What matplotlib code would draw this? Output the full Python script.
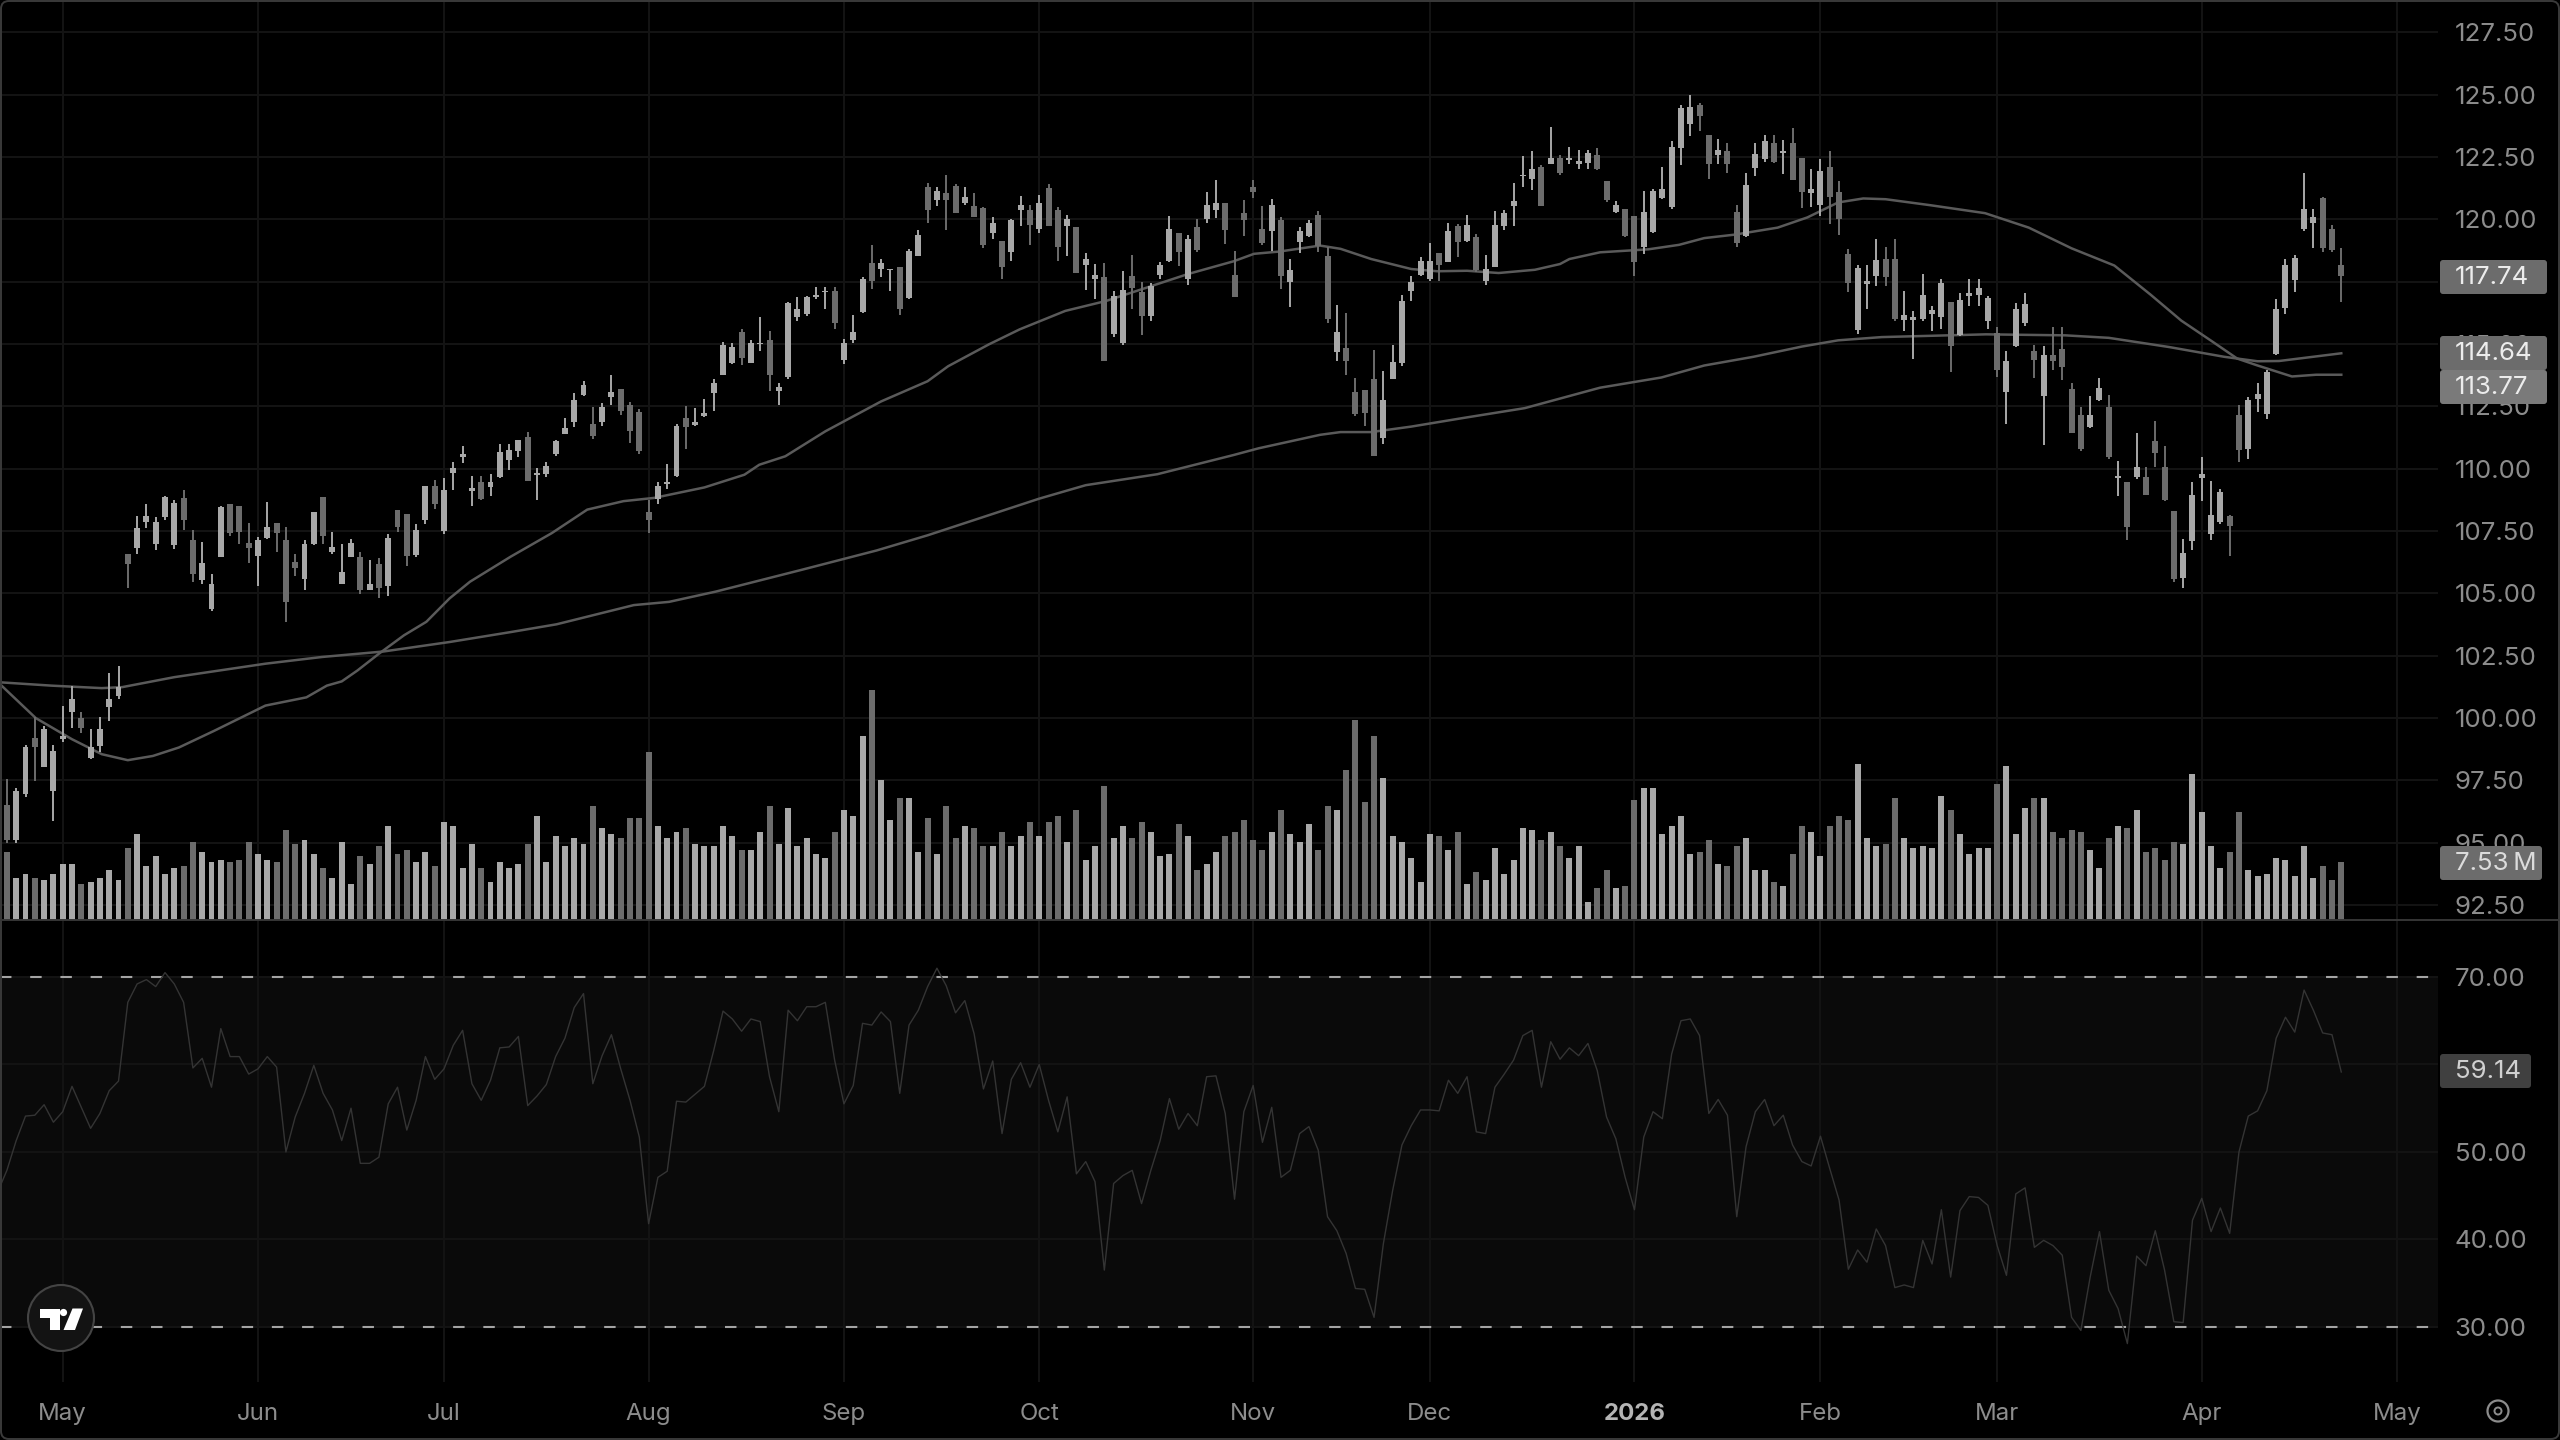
import matplotlib
matplotlib.use('Agg')
import matplotlib.pyplot as plt
import matplotlib.patches as mpatches
import numpy as np

opens = [96.5, 95.09, 96.96, 99.2, 98.04, 97.07, 99.15, 100.23, 99.99, 98.41,
         98.88, 100.43, 100.9, 106.57, 106.84, 107.88, 107.0, 108.08, 106.94, 108.82,
         107.14, 105.52, 104.38, 106.44, 108.59, 108.5, 107.04, 106.49, 107.23, 107.84,
         107.14, 106.24, 105.59, 107.0, 108.86, 106.67, 105.39, 106.47, 106.44, 105.15,
         106.17, 105.28, 108.35, 108.17, 106.53, 107.94, 109.31, 107.51, 109.83, 110.46,
         109.09, 109.46, 109.25, 109.66, 110.36, 110.7, 111.26, 109.75, 109.8, 110.59,
         111.41, 111.88, 112.94, 111.8, 111.87, 112.89, 113.19, 112.54, 112.27, 108.25,
         108.78, 109.4, 109.72, 112.04, 111.75, 112.11, 113.02, 113.75, 114.23, 115.47,
         114.23, 115.0, 115.17, 113.1, 113.66, 116.07, 116.2, 116.87, 117.07, 117.14,
         114.35, 115.16, 116.3, 118.25, 118.01, 117.97, 118.08, 116.84, 118.52, 121.3,
         120.77, 121.06, 121.34, 120.67, 120.52, 120.46, 119.46, 119.15, 118.68, 120.36,
         120.36, 119.62, 121.24, 120.36, 119.72, 119.69, 118.19, 117.61, 117.67, 115.39,
         115.05, 117.74, 117.1, 116.13, 117.77, 118.35, 119.45, 117.61, 119.69, 120.03,
         120.36, 120.66, 117.77, 120.26, 121.3, 119.6, 119.52, 119.96, 117.47, 119.09,
         119.35, 120.19, 118.55, 114.68, 114.85, 113.06, 113.17, 113.58, 111.22, 113.58,
         114.25, 117.14, 117.78, 117.61, 118.64, 118.28, 119.72, 119.15, 119.29, 117.51,
         118.1, 119.73, 120.54, 121.73, 121.64, 122.11, 122.22, 122.47, 122.38, 122.22,
         122.28, 122.58, 121.53, 120.29, 120.43, 120.12, 118.91, 119.5, 120.84, 120.5,
         122.85, 123.81, 124.57, 123.4, 122.57, 122.75, 120.29, 119.35, 122.06, 122.43,
         123.08, 122.67, 123.08, 122.47, 121.05, 120.57, 122.11, 121.09, 118.6, 115.57,
         117.39, 117.73, 118.43, 118.43, 115.98, 115.98, 116.01, 116.22, 116.08, 116.67,
         115.35, 116.91, 116.97, 115.94, 115.46, 113.08, 114.93, 115.84, 114.74, 112.9,
         114.56, 114.79, 113.18, 112.14, 111.66, 112.76, 112.49, 109.63, 109.45, 109.66,
         109.68, 111.1, 110.07, 108.3, 105.62, 107.1, 109.63, 107.38, 107.86, 108.1,
         112.14, 110.79, 112.8, 112.21, 114.6, 116.45, 117.55, 119.6, 119.85, 120.84, 119.6, 118.19]

closes = [95.12, 97.07, 98.84, 98.82, 99.56, 98.68, 99.29, 100.77, 99.62, 98.82,
          99.56, 100.77, 101.24, 106.17, 107.61, 108.1, 107.88, 108.86, 108.62, 107.94,
          105.79, 106.22, 105.36, 108.45, 107.41, 107.47, 106.83, 107.14, 107.67, 107.41,
          104.65, 106.02, 107.0, 108.27, 107.3, 106.87, 105.86, 107.04, 105.12, 105.36,
          105.23, 107.24, 107.67, 106.49, 107.54, 109.31, 108.59, 109.15, 110.03, 110.6,
          109.22, 108.78, 109.46, 110.67, 110.74, 111.17, 109.49, 109.83, 110.09, 111.1,
          111.64, 112.76, 113.35, 111.3, 112.49, 113.08, 112.31, 111.51, 110.7, 107.94,
          109.31, 109.48, 111.73, 111.68, 111.88, 112.22, 113.43, 114.96, 114.87, 114.46,
          115.04, 115.04, 113.75, 113.28, 116.65, 116.41, 116.87, 116.96, 117.14, 115.86,
          115.03, 115.5, 117.61, 117.54, 118.24, 118.01, 116.4, 118.75, 119.38, 120.36,
          121.13, 120.77, 120.27, 120.9, 120.11, 118.98, 119.85, 118.1, 119.96, 120.59,
          119.78, 120.67, 119.72, 118.91, 120.03, 117.85, 118.41, 117.78, 114.31, 116.94,
          117.18, 117.23, 116.13, 117.31, 118.17, 119.62, 118.68, 119.22, 118.79, 120.56,
          120.66, 119.56, 116.9, 119.96, 121.08, 119.06, 120.56, 117.71, 117.97, 119.53,
          119.87, 118.95, 116.0, 115.48, 114.31, 112.2, 112.23, 110.51, 112.77, 114.29,
          116.73, 117.5, 118.35, 118.32, 118.19, 119.53, 119.09, 119.76, 117.98, 118.01,
          119.78, 120.27, 120.73, 121.8, 122.04, 120.52, 122.45, 121.88, 122.45, 122.35,
          122.65, 122.04, 120.77, 120.57, 119.32, 118.29, 120.29, 121.12, 121.23, 122.91,
          124.46, 124.5, 124.13, 122.22, 122.8, 122.22, 119.05, 121.37, 122.61, 123.16,
          122.29, 122.75, 121.6, 121.09, 121.23, 121.95, 120.91, 120.01, 117.46, 118.04,
          117.53, 118.38, 117.69, 116.0, 116.15, 116.08, 116.98, 116.35, 117.46, 114.93,
          116.77, 117.04, 117.25, 116.84, 113.94, 114.32, 116.42, 116.59, 114.35, 114.56,
          114.32, 114.1, 111.45, 110.79, 112.17, 113.22, 110.48, 109.7, 107.65, 110.07,
          108.96, 110.65, 108.76, 105.58, 106.62, 108.96, 109.77, 108.16, 109.07, 107.69,
          110.76, 112.76, 113.0, 113.87, 116.42, 118.19, 118.45, 120.4, 120.08, 118.84, 118.77, 117.74]

highs = [97.54, 97.2, 98.9, 100.03, 99.69, 98.91, 100.5, 101.3, 100.26, 99.56,
         100.03, 101.81, 102.07, 106.57, 108.1, 108.59, 108.08, 108.91, 108.75, 109.15,
         107.54, 107.07, 105.77, 108.5, 108.59, 108.5, 107.84, 107.27, 108.68, 107.84,
         107.67, 106.57, 107.14, 108.27, 108.88, 107.47, 106.98, 107.2, 106.67, 106.33,
         106.4, 107.38, 108.35, 108.17, 107.78, 109.31, 109.53, 109.62, 110.26, 110.93,
         109.69, 109.69, 109.8, 111.0, 111.0, 111.17, 111.48, 110.03, 110.27, 111.17,
         112.04, 113.02, 113.52, 112.49, 112.62, 113.75, 113.19, 112.67, 112.38, 108.75,
         109.46, 110.2, 111.8, 112.51, 112.45, 112.78, 113.59, 115.09, 115.03, 115.6,
         115.17, 116.07, 115.51, 113.45, 116.68, 116.9, 116.94, 117.27, 117.27, 117.27,
         115.19, 116.16, 117.67, 118.99, 118.41, 118.01, 118.08, 118.82, 119.56, 121.48,
         121.3, 121.8, 121.4, 121.3, 121.06, 120.5, 120.09, 119.15, 120.0, 120.93,
         120.56, 120.97, 121.4, 120.5, 120.16, 119.69, 118.66, 118.21, 118.25, 117.14,
         117.92, 118.58, 117.5, 117.45, 118.31, 120.12, 119.45, 119.38, 120.0, 121.08,
         121.57, 120.66, 118.72, 120.77, 121.57, 120.52, 120.83, 120.09, 118.41, 119.69,
         119.96, 120.32, 118.88, 116.56, 116.24, 113.64, 113.17, 114.78, 113.91, 114.95,
         116.96, 117.74, 118.48, 119.06, 118.64, 119.87, 119.83, 120.16, 119.42, 118.58,
         120.34, 120.36, 121.48, 122.55, 122.76, 122.2, 123.72, 122.58, 122.92, 122.78,
         122.78, 122.85, 121.56, 120.73, 120.43, 120.12, 121.15, 121.23, 122.11, 123.16,
         124.57, 124.99, 124.68, 123.4, 123.22, 123.05, 120.57, 121.88, 123.08, 123.4,
         123.4, 123.19, 123.67, 122.47, 122.02, 122.43, 122.75, 121.53, 118.81, 118.19,
         118.19, 119.23, 118.91, 119.23, 117.11, 116.31, 117.8, 116.53, 117.6, 116.67,
         117.04, 117.62, 117.62, 116.91, 115.7, 114.74, 116.63, 117.04, 114.97, 114.93,
         115.7, 115.7, 113.45, 112.49, 112.9, 113.63, 112.97, 110.32, 109.45, 111.45,
         110.07, 111.93, 110.9, 108.3, 107.17, 109.45, 110.48, 109.52, 109.17, 108.16,
         112.55, 112.86, 113.45, 113.94, 116.81, 118.43, 118.59, 121.88, 120.4, 120.91, 119.77, 118.84]

lows = [94.99, 95.0, 96.84, 97.47, 98.04, 95.86, 99.02, 99.62, 99.42, 98.35,
        98.62, 99.89, 100.77, 105.23, 106.57, 107.61, 106.73, 107.94, 106.8, 107.54,
        105.46, 105.36, 104.31, 106.44, 107.3, 107.0, 106.2, 105.28, 107.2, 106.67,
        103.84, 105.69, 105.12, 106.94, 107.0, 106.57, 105.36, 106.44, 104.99, 105.12,
        104.83, 104.88, 107.47, 106.09, 106.44, 107.78, 108.37, 107.38, 109.15, 110.23,
        108.51, 108.75, 108.91, 109.62, 109.96, 110.46, 109.49, 108.75, 109.66, 110.52,
        111.41, 111.67, 112.92, 111.2, 111.73, 112.54, 112.14, 111.03, 110.6, 107.41,
        108.59, 109.18, 109.65, 110.79, 111.73, 112.08, 112.31, 113.75, 114.19, 114.17,
        114.23, 114.73, 113.12, 112.54, 113.59, 115.94, 116.13, 116.8, 116.4, 115.59,
        114.22, 115.03, 116.26, 117.2, 117.67, 117.14, 116.16, 116.8, 118.52, 119.87,
        120.54, 119.56, 120.27, 120.59, 120.11, 118.84, 119.22, 117.6, 118.35, 119.73,
        118.99, 119.46, 119.72, 118.35, 118.55, 117.85, 117.18, 116.8, 114.31, 115.3,
        114.95, 116.4, 115.35, 115.93, 117.61, 118.31, 118.12, 117.37, 118.71, 119.87,
        120.05, 119.0, 116.9, 119.33, 120.87, 118.99, 118.75, 117.2, 116.5, 118.66,
        119.29, 118.71, 115.86, 114.31, 113.74, 112.12, 111.72, 110.51, 111.0, 113.58,
        114.14, 116.73, 117.74, 117.54, 117.54, 118.28, 118.48, 119.09, 117.88, 117.38,
        118.08, 119.56, 119.73, 121.3, 121.17, 120.52, 122.22, 121.8, 122.22, 122.02,
        122.04, 121.98, 120.7, 120.26, 119.3, 117.73, 118.6, 119.46, 120.81, 120.43,
        122.2, 123.33, 123.54, 121.64, 122.22, 121.88, 118.91, 119.3, 121.74, 122.29,
        122.25, 121.81, 121.6, 120.46, 120.5, 120.15, 119.81, 119.39, 117.09, 115.39,
        116.42, 117.32, 117.32, 115.94, 115.52, 114.42, 115.94, 115.52, 115.62, 113.87,
        115.32, 116.53, 116.53, 115.62, 113.69, 111.8, 114.9, 115.73, 113.63, 110.97,
        113.94, 113.55, 111.45, 110.73, 111.62, 112.72, 110.41, 108.89, 107.14, 109.59,
        108.94, 110.07, 108.72, 105.44, 105.21, 106.75, 108.72, 107.14, 107.79, 106.48,
        110.28, 110.41, 112.28, 112.0, 114.56, 116.22, 117.09, 119.53, 118.84, 118.7, 118.7, 116.7]

# volume in millions
volumes = [8.83, 5.38, 5.94, 5.38, 5.17, 5.94, 7.23, 7.23, 4.65, 4.91,
           5.43, 6.46, 5.17, 9.34, 11.11, 6.98, 8.27, 5.94, 6.72, 6.98,
           10.08, 8.78, 7.49, 7.75, 7.49, 7.75, 10.08, 8.53, 7.75, 7.49,
           11.63, 9.82, 10.33, 8.53, 6.72, 5.43, 10.08, 4.65, 8.27, 7.23,
           9.56, 12.14, 8.53, 9.04, 7.49, 8.78, 6.98, 12.66, 12.14, 6.72,
           9.82, 6.72, 4.91, 7.49, 6.72, 7.23, 9.82, 13.43, 7.49, 10.85,
           9.56, 10.59, 9.82, 14.73, 11.88, 11.11, 10.59, 13.18, 13.18, 21.7,
           12.14, 10.59, 11.37, 11.88, 9.82, 9.56, 9.56, 12.14, 10.85, 9.04,
           9.04, 11.37, 14.73, 9.82, 14.47, 9.56, 10.59, 8.53, 8.01, 11.37,
           14.21, 13.43, 23.77, 29.71, 18.09, 12.92, 15.76, 15.76, 8.78, 13.18,
           8.53, 14.73, 10.59, 12.14, 11.88, 9.56, 9.56, 11.37, 9.56, 10.85,
           12.66, 10.85, 12.66, 13.43, 10.08, 14.21, 7.75, 9.56, 17.31, 10.59,
           12.14, 10.59, 12.66, 11.37, 8.27, 8.53, 12.4, 10.85, 6.46, 7.23,
           8.78, 10.85, 11.37, 12.92, 10.33, 9.04, 11.37, 14.21, 11.11, 10.08,
           12.4, 9.04, 14.73, 14.21, 19.38, 25.84, 15.24, 23.77, 18.34, 10.85,
           10.08, 8.01, 4.91, 11.11, 10.85, 9.04, 11.37, 4.65, 6.2, 5.17,
           9.3, 5.94, 7.75, 11.88, 11.63, 10.33, 11.37, 9.56, 8.01, 9.56,
           2.33, 4.13, 6.46, 4.13, 4.39, 15.5, 17.05, 17.05, 11.11, 12.14,
           13.43, 8.53, 8.78, 10.33, 7.23, 6.98, 9.56, 10.59, 6.46, 6.46,
           4.91, 4.39, 8.53, 12.14, 11.37, 8.27, 12.14, 13.43, 12.92, 20.15,
           10.59, 9.56, 9.82, 15.76, 10.59, 9.3, 9.56, 9.3, 16.02, 14.21,
           11.11, 8.53, 9.3, 9.3, 17.57, 19.89, 11.11, 14.47, 15.76, 15.76,
           11.37, 10.59, 11.63, 11.37, 9.04, 6.72, 10.59, 12.14, 11.88, 14.21,
           8.78, 9.3, 7.75, 10.08, 9.82, 18.86, 13.95, 9.56, 6.72, 8.78,
           13.95, 6.46, 5.68, 5.94, 8.01, 7.75, 5.68, 9.56, 5.43, 6.98, 5.17, 7.53]

# rsi starts one bar left of the first candle
rsi = [45.4, 47.9, 51.3, 54.1, 54.2, 55.4, 53.4, 54.6, 57.5, 55.1, 52.7,
       54.4, 57.0, 58.1, 67.1, 69.2, 69.7, 68.9, 70.5, 69.2, 67.1,
       59.6, 60.7, 57.4, 64.1, 60.9, 60.9, 58.9, 59.5, 60.9, 59.7,
       50.0, 54.0, 56.7, 59.9, 56.7, 54.8, 51.3, 55.0, 48.7, 48.7,
       49.4, 55.5, 57.4, 52.5, 55.9, 60.9, 58.3, 59.5, 62.2, 63.9,
       57.8, 55.9, 58.2, 61.9, 62.0, 63.2, 55.3, 56.4, 57.7, 60.9,
       63.0, 66.5, 68.1, 57.8, 61.0, 63.4, 59.5, 55.9, 51.7, 41.8,
       47.1, 47.8, 55.8, 55.7, 56.6, 57.5, 61.6, 66.1, 65.2, 63.8,
       65.2, 64.9, 58.6, 54.6, 66.2, 65.0, 66.6, 66.6, 67.1, 60.5,
       55.5, 57.6, 64.7, 64.5, 66.0, 64.9, 56.7, 64.5, 66.2, 68.9,
       71.0, 69.0, 65.9, 67.3, 63.5, 57.2, 60.4, 52.1, 58.3, 60.2,
       57.4, 60.0, 55.9, 52.3, 56.3, 47.5, 48.9, 46.6, 36.5, 46.4,
       47.3, 47.9, 44.1, 47.9, 51.3, 56.1, 52.6, 54.4, 53.0, 58.6,
       58.7, 54.4, 44.6, 54.6, 57.6, 51.1, 55.1, 47.1, 47.9, 52.1,
       52.9, 50.2, 42.6, 41.0, 38.4, 34.4, 34.3, 31.1, 39.5, 45.6,
       50.8, 53.0, 54.8, 54.8, 54.7, 58.2, 56.7, 58.6, 52.3, 52.1,
       57.4, 58.9, 60.5, 63.3, 63.9, 57.4, 62.6, 60.6, 61.9, 61.0,
       62.4, 59.3, 54.0, 51.5, 47.1, 43.4, 51.7, 54.6, 53.8, 61.2,
       65.0, 65.2, 63.3, 54.4, 56.0, 54.2, 42.6, 50.6, 54.6, 56.0,
       53.0, 54.2, 50.8, 48.9, 48.4, 51.8, 48.1, 44.5, 36.6, 38.8,
       37.4, 41.2, 39.3, 34.5, 34.8, 34.5, 39.9, 37.2, 43.4, 35.7,
       43.3, 44.9, 44.8, 43.9, 39.3, 35.9, 45.2, 45.9, 39.1, 39.9,
       39.3, 38.2, 31.1, 29.6, 35.7, 40.9, 34.2, 32.1, 28.1, 38.1,
       37.0, 41.0, 36.5, 30.6, 30.5, 42.2, 44.7, 40.9, 43.6, 40.7,
       50.0, 54.1, 54.7, 57.0, 63.0, 65.4, 63.7, 68.5, 66.2, 63.6, 63.4, 59.14]

# moving averages, read at their bends
ma_fast_x = [-1, 3.1, 7, 10.2, 13, 15.7, 18.5, 22.3, 27.8, 32.2, 34.4, 36, 37.7, 40, 42.7, 45.1, 47.6, 49.8,
             54.2, 58.6, 62.4, 66.3, 69.6, 75, 79.3, 80.9, 83.7, 88, 94, 99, 101.2, 105.6, 108.9, 113.8,
             118.2, 122.6, 127, 131.9, 134.1, 136.8, 141.2, 143.4, 146.7, 151, 153.8, 157, 160.4, 164.3,
             167, 168, 171.3, 176.5, 179.8, 182.5, 185.8, 190.4, 193.6, 196.9, 199.6, 202, 206.8, 212.7,
             217.4, 222, 226.6, 230.5, 233.8, 237.1, 239.8, 242, 245.7, 248.3, 251]
ma_fast = [101.45, 100.0, 99.15, 98.55, 98.31, 98.48, 98.82, 99.49, 100.5, 100.83, 101.3, 101.47, 101.91, 102.58,
           103.32, 103.86, 104.8, 105.47, 106.48, 107.42, 108.36, 108.7, 108.83, 109.25, 109.76, 110.16, 110.5,
           111.5, 112.7, 113.51, 114.11, 114.99, 115.59, 116.33, 116.73, 117.27, 117.81, 118.32, 118.62, 118.71,
           118.95, 118.82, 118.41, 118.01, 117.92, 117.94, 117.85, 117.98, 118.21, 118.41, 118.68, 118.8, 118.98,
           119.25, 119.39, 119.67, 120.08, 120.68, 120.84, 120.81, 120.57, 120.25, 119.67, 118.84, 118.15, 116.98,
           115.94, 115.11, 114.42, 114.14, 113.7, 113.77, 113.77]

ma_slow_x = [-1, 4.8, 10.2, 12.4, 18, 22.9, 27.8, 33.9, 40.5, 47.6, 54.2, 59.1, 67.4, 71.2, 76.2, 85.4, 93.5, 99,
             103.9, 111, 116, 123.7, 131.9, 134.6, 141.2, 143.4, 146.7, 151, 156.5, 163.2, 171.3, 177.9, 182.5,
             187.8, 193, 196.9, 201.6, 212.8, 221.3, 226, 232.5, 238.4, 242, 244.3, 251]
ma_slow = [101.44, 101.3, 101.2, 101.24, 101.64, 101.91, 102.18, 102.45, 102.67, 103.05, 103.45, 103.76, 104.53,
           104.66, 105.07, 105.94, 106.72, 107.33, 107.93, 108.8, 109.34, 109.78, 110.55, 110.82, 111.36, 111.47,
           111.47, 111.69, 112.03, 112.43, 113.25, 113.66, 114.14, 114.49, 114.9, 115.15, 115.28, 115.39, 115.35,
           115.25, 114.88, 114.49, 114.31, 114.32, 114.63]

month_idx = [6, 27, 47, 69, 90, 111, 134, 153, 175, 195, 214, 236, 257]
month_labels = ['May', 'Jun', 'Jul', 'Aug', 'Sep', 'Oct', 'Nov', 'Dec', '2026', 'Feb', 'Mar', 'Apr', 'May']
price_ticks = [92.5, 95, 97.5, 100, 102.5, 105, 107.5, 110, 112.5, 115, 117.5, 120, 122.5, 125, 127.5]
rsi_ticks = [30, 40, 50, 60, 70]
# these two labels sit fully under the value tags
hidden_ticks = [117.5, 60]

UP = '#a8a8a8'
DOWN = '#6c6c6c'
GRID = '#131313'
TEXT = '#8c8c8c'
FONT = 17.3
NUM_FONT = 18.6

plt.rcParams['font.family'] = ['Inter', 'DejaVu Sans']

W, H = 2560, 1440
fig = plt.figure(figsize=(W / 100, H / 100), dpi=100, facecolor='black')


def make_axes(top, bottom):
    ax = fig.add_axes([0, 1 - bottom / H, 2438 / W, (bottom - top) / H])
    ax.set_xlim(-0.742, 261.4)
    ax.set_facecolor('black')
    for s in ax.spines.values():
        s.set_visible(False)
    ax.set_xticks(month_idx)
    ax.grid(True, color=GRID, lw=1.5)
    ax.set_axisbelow(True)
    ax.tick_params(length=0, colors=TEXT, labelsize=FONT)
    ax.tick_params(axis='y', labelsize=NUM_FONT, pad=12)
    return ax


def tick_text(values):
    return ['' if v in hidden_ticks else '%.2f' % v for v in values]


# price pane
ax = make_axes(0, 920)
ax.set_ylim(91.9, 128.8)
ax.set_yticks(price_ticks)
ax.set_yticklabels(tick_text(price_ticks))
ax.yaxis.tick_right()
ax.tick_params(axis='x', labelbottom=False)

x = np.arange(len(closes))
o = np.array(opens)
c = np.array(closes)
colors = [UP if b >= a else DOWN for a, b in zip(opens, closes)]
ax.vlines(x, lows, highs, colors=colors, lw=1.4, zorder=3)
ax.bar(x, np.abs(c - o), bottom=np.minimum(o, c), width=0.64, color=colors, zorder=3)
ax.plot(ma_fast_x, ma_fast, color='#5a5a5a', lw=1.8, zorder=2)
ax.plot(ma_slow_x, ma_slow, color='#5a5a5a', lw=1.8, zorder=2)

# volume sits on the same time scale, at the bottom of the price pane
ax_vol = fig.add_axes(ax.get_position())
ax_vol.set_xlim(ax.get_xlim())
ax_vol.set_ylim(0, 118.9)
ax_vol.axis('off')
ax_vol.bar(x, volumes, width=0.64, color=colors)

# rsi pane
ax_rsi = make_axes(920, 1382)
ax_rsi.set_ylim(23.71, 76.51)
ax_rsi.set_yticks(rsi_ticks)
ax_rsi.set_yticklabels(tick_text(rsi_ticks))
ax_rsi.yaxis.tick_right()
ax_rsi.tick_params(axis='x', pad=15)
ax_rsi.set_xticklabels(month_labels)
for lab in ax_rsi.get_xticklabels():
    if lab.get_text() == '2026':
        lab.set_fontweight('bold')
        lab.set_color('#b4b4b4')
ax_rsi.axhspan(30, 70, color='#0a0a0a', lw=0, zorder=0)
ax_rsi.axhline(70, color='#a4a4a4', lw=1.5, dashes=(5.5, 9), zorder=2)
ax_rsi.axhline(30, color='#a4a4a4', lw=1.5, dashes=(5.5, 9), zorder=2)
ax_rsi.plot(np.arange(-1, len(closes)), rsi, color='#343434', lw=1.0, zorder=3)

# overlay in pixels for value tags, logo and frame
top = fig.add_axes([0, 0, 1, 1], zorder=5)
top.set_xlim(0, W)
top.set_ylim(H, 0)
top.axis('off')


def tag(y0, y1, x1, text, fill, fg):
    top.add_patch(mpatches.FancyBboxPatch((2440, y0), x1 - 2440, y1 - y0,
                                          boxstyle='round,pad=0,rounding_size=3', fc=fill, ec='none'))
    top.text(2455, (y0 + y1) / 2 + 1, text, color=fg, fontsize=NUM_FONT, va='center', ha='left')


tag(336, 370, 2547, '114.64', '#6c6c6c', '#ececec')
tag(370, 404, 2547, '113.77', '#7a7a7a', '#ececec')
tag(260, 294, 2547, '117.74', '#6c6c6c', '#ececec')
tag(846, 880, 2542, '7.53\u2009M', '#6c6c6c', '#dcdcdc')
tag(1054, 1088, 2531, '59.14', '#404040', '#d0d0d0')

top.plot([0, W], [920, 920], color='#363636', lw=1.4)

# logo
top.add_patch(mpatches.Circle((61, 1318), 33, fc='#131313', ec='#444444', lw=1.5))
top.add_patch(mpatches.Polygon([(39.5, 1308.5), (59.5, 1308.5), (59.5, 1330), (49.5, 1330), (49.5, 1317.5), (39.5, 1317.5)],
                               fc='white', ec='none'))
top.add_patch(mpatches.Circle((63.5, 1312.5), 3.6, fc='white', ec='none'))
top.add_patch(mpatches.Polygon([(72.5, 1308.5), (83, 1308.5), (75, 1330), (63.5, 1330)], fc='white', ec='none'))

# settings gear
top.add_patch(mpatches.Circle((2498, 1411), 10.5, fc='none', ec=TEXT, lw=1.6))
top.add_patch(mpatches.Circle((2498, 1411), 3.5, fc='none', ec=TEXT, lw=1.4))

# window frame
top.add_patch(mpatches.FancyBboxPatch((1, 1), W - 2, H - 2, boxstyle='round,pad=0,rounding_size=8',
                                      fc='none', ec='#3a3a3a', lw=1.4))

fig.savefig('out.png', dpi=100, facecolor='black')
